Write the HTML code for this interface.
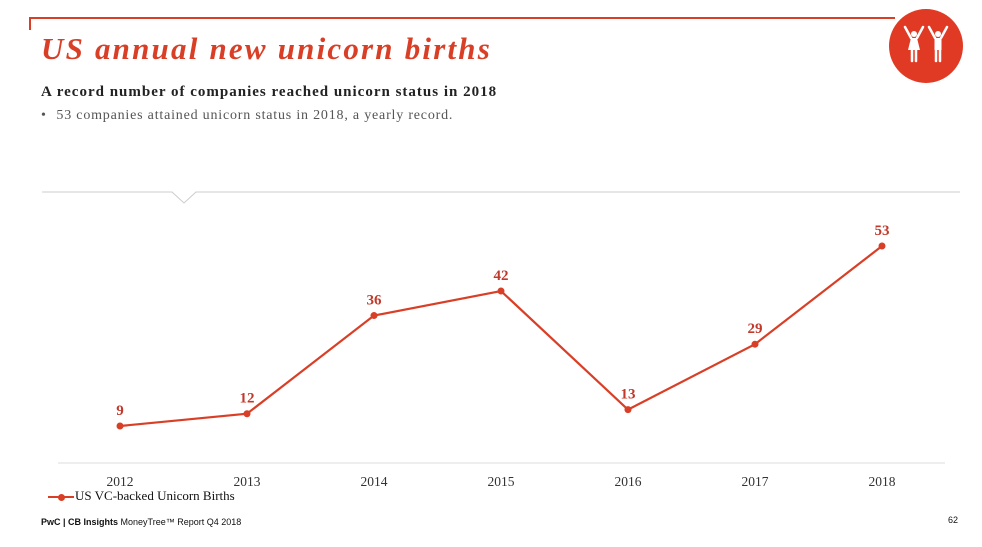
<!DOCTYPE html>
<html><head><meta charset="utf-8"><style>
body{margin:0;width:982px;height:547px;background:#fff;overflow:hidden;font-family:"Liberation Serif",serif;position:relative}
.t{position:absolute;white-space:nowrap}
</style></head><body>
<svg width="982" height="547" style="position:absolute;left:0;top:0">
<path d="M30 30 V18 H895" stroke="#d93f26" stroke-width="2" fill="none"/>
<g>
<circle cx="926" cy="46" r="37" fill="#e03a24"/>
<g fill="#fff" stroke="#fff" stroke-linecap="round">
<circle cx="914" cy="34" r="3" stroke="none"/>
<path d="M905 27 L911 38 M923 27 L917 38" stroke-width="2.5" fill="none"/>
<path d="M911 38 H917 L920 50 H908 Z" stroke="none"/>
<path d="M912 50 V61 M916 50 V61" stroke-width="2.5" fill="none"/>
<circle cx="938" cy="34" r="3" stroke="none"/>
<path d="M929 27 L935 38 M947 27 L941 38" stroke-width="2.5" fill="none"/>
<rect x="934.5" y="38" width="7" height="12" stroke="none"/>
<path d="M936 50 V61 M940 50 V61" stroke-width="2.5" fill="none"/>
</g></g>
<path d="M42 192 H172 L184 203 L196 192 H960" stroke="#ccc" stroke-width="1" fill="none"/>
<line x1="58" y1="463" x2="945" y2="463" stroke="#ddd" stroke-width="1"/>
<g id="marks"></g>
</svg>
<div class="t" style="left:41px;top:31px;font-size:31px;letter-spacing:2.2px;font-style:italic;font-weight:bold;color:#d93f26">US annual new unicorn births</div>
<div class="t" style="left:41px;top:84px;font-size:15px;letter-spacing:1px;font-weight:bold;color:#222">A record number of companies reached unicorn status in 2018</div>
<div class="t" style="left:41px;top:108px;font-size:14px;color:#555">•&nbsp;&nbsp;&nbsp;<span style="letter-spacing:0.8px">53 companies attained unicorn status in 2018, a yearly record.</span></div>
<div class="t" style="left:48px;top:488px;font-size:13px;color:#111"><span style="display:inline-block;width:26px;height:2px;background:#d93f26;vertical-align:middle;position:relative;margin-right:1px"><span style="position:absolute;left:10px;top:-2.5px;width:7px;height:7px;border-radius:50%;background:#d93f26"></span></span>US VC-backed Unicorn Births</div>
<div class="t" style="left:41px;top:517px;font-size:9px;font-family:'Liberation Sans',sans-serif;color:#111"><b>PwC | CB Insights</b> MoneyTree™ Report Q4 2018</div>
<div class="t" style="left:948px;top:515px;font-size:9px;font-family:'Liberation Sans',sans-serif;color:#111">62</div>
<script>
const categories=["2012","2013","2014","2015","2016","2017","2018"];
const values=[9,12,36,42,13,29,53];
const xs=i=>120+i*127;
const ys=v=>462.8-v*4.09;
const g=document.getElementById('marks');
const NS="http://www.w3.org/2000/svg";
const line=document.createElementNS(NS,'polyline');
line.setAttribute('points',values.map((v,i)=>xs(i)+','+ys(v)).join(' '));
line.setAttribute('fill','none');line.setAttribute('stroke','#d93f26');line.setAttribute('stroke-width','2.2');


g.appendChild(line);
values.forEach((v,i)=>{
 const c=document.createElementNS(NS,'circle');
 c.setAttribute('cx',xs(i));c.setAttribute('cy',ys(v));c.setAttribute('r','3.5');c.setAttribute('fill','#d93f26');
 
 
 g.appendChild(c);
 const t=document.createElementNS(NS,'text');
 t.setAttribute('x',xs(i));t.setAttribute('y',ys(v)-11);t.setAttribute('text-anchor','middle');
 t.setAttribute('font-size','15');t.setAttribute('font-weight','bold');t.setAttribute('fill','#c0392b');
 t.setAttribute('font-family','Liberation Serif, serif');
 t.textContent=v;
 
 
 g.appendChild(t);
 const x=document.createElementNS(NS,'text');
 x.setAttribute('x',xs(i));x.setAttribute('y',486);x.setAttribute('text-anchor','middle');
 x.setAttribute('font-size','13.5');x.setAttribute('fill','#333');x.setAttribute('font-family','Liberation Serif, serif');
 x.textContent=categories[i];
 
 
 g.appendChild(x);
});
</script>
</body></html>
